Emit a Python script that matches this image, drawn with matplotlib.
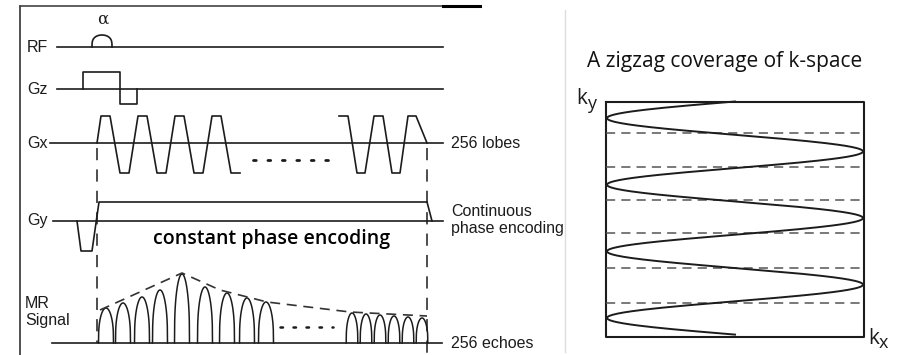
import matplotlib.pyplot as plt
import numpy as np

# --- diagram data (pixel coordinates of the reference drawing) ---
row_labels = ['RF', 'Gz', 'Gx', 'Gy']
row_label_y = [47, 89, 143, 221]
row_line_start = [57, 57, 50, 53]
line_end = 443

rf_pulse = [92, 112, 35]             # start x, end x, peak y
gz_lobe_x = [83, 83, 120, 120, 137, 137]
gz_lobe_y = [89, 72, 72, 104, 104, 89]

gx_left_x = [97, 101, 110, 120, 129, 138, 147, 157, 166, 175, 184, 194, 203, 212, 221, 231, 240]
gx_left_y = [143, 116, 116, 173, 173, 116, 116, 173, 173, 116, 116, 173, 173, 116, 116, 173, 173]
gx_right_x = [339, 348, 357, 365, 374, 383, 392, 400, 408, 416, 427]
gx_right_y = [116, 116, 173, 173, 116, 116, 173, 173, 116, 116, 143]

gy_x = [77, 81, 92, 99, 427, 432]
gy_y = [221, 251, 251, 202, 202, 221]

mr_base_y = 343
echo_left_x = [106, 123, 142, 160, 182, 205, 227, 247, 266]
echo_left_top = [308, 303, 297, 290, 274, 287, 293, 298, 302]
echo_right_x = [352, 366, 380, 394, 408, 422]
echo_right_top = [313, 314, 315, 316, 317, 318]

envelope_x = [100, 182, 220, 267, 350, 427]
envelope_y = [310, 273, 290, 302, 312, 316]

# k-space panel
box = [606, 102, 864, 337]           # left, top, right, bottom
dashed_rows = [133, 167, 200, 233, 268, 303]
turns = 7                            # half cycles of the zigzag
zig_top = 101.5
zig_half = 33.3

ink = '#1c1c1c'
font = 'Liberation Sans'
lab_size = 11.5

fig = plt.figure(figsize=(9.08, 3.55), dpi=100)
ax = fig.add_axes([0, 0, 1, 1])
ax.set_xlim(0, 908)
ax.set_ylim(355, 0)
ax.axis('off')

# frame of the left picture
ax.plot([20, 20], [6, 355], color='#333333', lw=1.2)
ax.plot([20, 443], [6, 6], color='#444444', lw=1.2)
ax.plot([443, 480], [5.5, 5.5], color='black', lw=2.2)
ax.plot([565, 565], [10, 352], color='#dddddd', lw=1)

# row labels and baselines
for name, y, x0 in zip(row_labels, row_label_y, row_line_start):
    ax.text(27, y, name, fontsize=lab_size, family=font, color=ink, va='center', ha='left')
    ax.plot([x0, line_end], [y, y], color=ink, lw=1.2)

ax.text(103, 19, 'α', fontsize=12, family='DejaVu Serif', color=ink, ha='center', va='center')

# RF bump
t = np.linspace(0, np.pi, 40)
cx = (rf_pulse[0] + rf_pulse[1]) / 2
hw = (rf_pulse[1] - rf_pulse[0]) / 2
ax.plot(cx - hw * np.cos(t), 47 - (47 - rf_pulse[2]) * np.sin(t) ** 0.6, color=ink, lw=1.2)

# Gz / Gx / Gy waveforms
ax.plot(gz_lobe_x, gz_lobe_y, color=ink, lw=1.2)
ax.plot(gx_left_x, gx_left_y, color=ink, lw=1.2)
ax.plot(gx_right_x, gx_right_y, color=ink, lw=1.2)
ax.plot([253, 328], [160, 160], color=ink, lw=2, linestyle=(0, (1, 4.2)), dash_capstyle='round')
ax.plot(gy_x, gy_y, color=ink, lw=1.2)

ax.text(451, 143, '256 lobes', fontsize=lab_size, family=font, color=ink, va='center')
ax.text(451, 212, 'Continuous', fontsize=lab_size, family=font, color=ink, va='center')
ax.text(451, 229, 'phase encoding', fontsize=lab_size, family=font, color=ink, va='center')
ax.text(272, 239, 'constant phase encoding', fontsize=14, family='Open Sans',
        weight='semibold', color='black', ha='center', va='center')

# MR signal
ax.text(25, 303, 'MR', fontsize=lab_size, family=font, color=ink, va='center')
ax.text(25, 321, 'Signal', fontsize=lab_size, family=font, color=ink, va='center')
ax.plot([52, 442], [mr_base_y, mr_base_y], color=ink, lw=1.2)


def draw_echoes(xs, tops, half):
    for c, top in zip(xs, tops):
        u = np.linspace(-1, 1, 80)
        y = mr_base_y - (mr_base_y - top) * np.cos(np.pi * u / 2) ** 0.35
        ax.plot(c + half * u, y, color=ink, lw=1.1)


draw_echoes(echo_left_x, echo_left_top, 7.5)
draw_echoes(echo_right_x, echo_right_top, 5.8)
ax.plot(envelope_x, envelope_y, color='#333333', lw=1.2, linestyle=(0, (6, 4)))
ax.plot([280, 333], [327, 327], color=ink, lw=1.8, linestyle=(0, (1, 4.2)), dash_capstyle='round')
ax.text(451, mr_base_y, '256 echoes', fontsize=lab_size, family=font, color=ink, va='center')

# dashed timing markers
ax.plot([97, 97], [148, mr_base_y], color=ink, lw=1.1, linestyle=(0, (8, 6)))
ax.plot([427, 427], [148, 355], color=ink, lw=1.1, linestyle=(0, (8, 6)))

# --- k-space zigzag ---
ax.text(725, 61, 'A zigzag coverage of k-space', fontsize=15, family='Open Sans',
        color='#111111', ha='center', va='center')
l, tp, r, b = box
ax.plot([l, r, r, l, l], [tp, tp, b, b, tp], color=ink, lw=1.5)
for y in dashed_rows:
    ax.plot([l, r], [y, y], color='#555555', lw=1.1, linestyle=(0, (6, 4)))
yy = np.linspace(zig_top, zig_top + turns * zig_half, 600)
amp = (r - l) / 2 - 1
ax.plot((l + r) / 2 - amp * np.sin(np.pi * (yy - zig_top) / zig_half), yy, color=ink, lw=1.4)

ax.text(576, 99, 'k', fontsize=15, family='Open Sans', color=ink, va='center', ha='left')
ax.text(587.5, 104, 'y', fontsize=13, family='Open Sans', color=ink, va='center', ha='left')
ax.text(868, 338, 'k', fontsize=15, family='Open Sans', color=ink, va='center', ha='left')
ax.text(879, 343, 'x', fontsize=13, family='Open Sans', color=ink, va='center', ha='left')

fig.savefig('out.png', dpi=100)
